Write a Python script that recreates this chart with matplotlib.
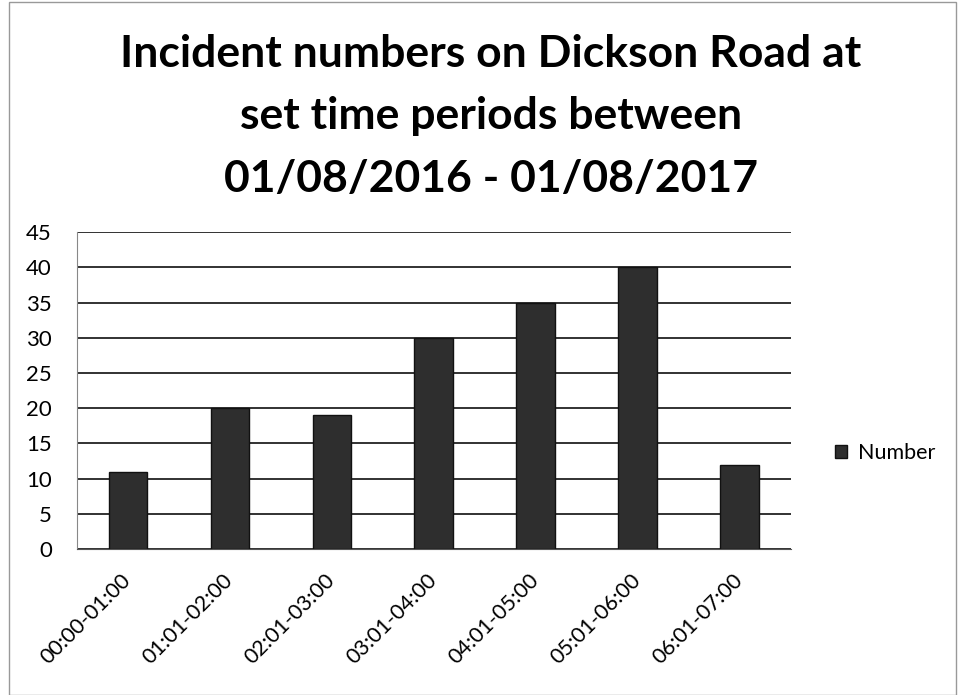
import matplotlib
matplotlib.use("Agg")
import matplotlib.pyplot as plt
from matplotlib.patches import Rectangle

# ---- chart data
periods = ["00:00-01:00", "01:01-02:00", "02:01-03:00", "03:01-04:00",
           "04:01-05:00", "05:01-06:00", "06:01-07:00"]
incidents = [11, 20, 19, 30, 35, 40, 12]
y_ticks = list(range(0, 50, 5))

plt.rcParams['font.family'] = ['Lato', 'DejaVu Sans']

fig = plt.figure(figsize=(9.62, 6.95), dpi=100)
ax = fig.add_axes([0.080, 0.210, 0.742, 0.456])

ax.bar(range(len(periods)), incidents, width=0.38, color="#2e2e2e",
       edgecolor="#111111", linewidth=1, label="Number", zorder=3)

ax.set_ylim(0, 45)
ax.set_xlim(-0.5, len(periods) - 0.5)
ax.set_yticks(y_ticks)
ax.set_yticklabels([str(v) for v in y_ticks], fontsize=16)
ax.set_xticks(range(len(periods)))
ax.set_xticklabels(periods, rotation=45, ha="right", va="center",
                   rotation_mode="anchor", fontsize=15.5)
ax.tick_params(axis="y", length=0, pad=18)
ax.tick_params(axis="x", length=0, pad=20)
ax.yaxis.grid(True, color="#222222", linewidth=1.3, zorder=0)

for side in ["top", "right"]:
    ax.spines[side].set_visible(False)
ax.spines["left"].set_color("#888888")
ax.spines["bottom"].set_color("#555555")

# ---- title
fig.text(0.51, 0.833, "Incident numbers on Dickson Road at\nset time periods between\n01/08/2016 - 01/08/2017",
         ha="center", va="center", fontsize=32, fontweight="bold",
         linespacing=1.68)

# ---- legend
ax.legend(loc="center left", bbox_to_anchor=(1.035, 0.303), frameon=False,
          fontsize=15.5, handlelength=0.55, handleheight=0.55, handletextpad=0.5)

# ---- outer border
fig.patches.append(Rectangle((0.009, 0.0), 0.985, 0.997, transform=fig.transFigure,
                             fill=False, edgecolor="#999999", linewidth=1))

fig.savefig("out.png", dpi=100)
